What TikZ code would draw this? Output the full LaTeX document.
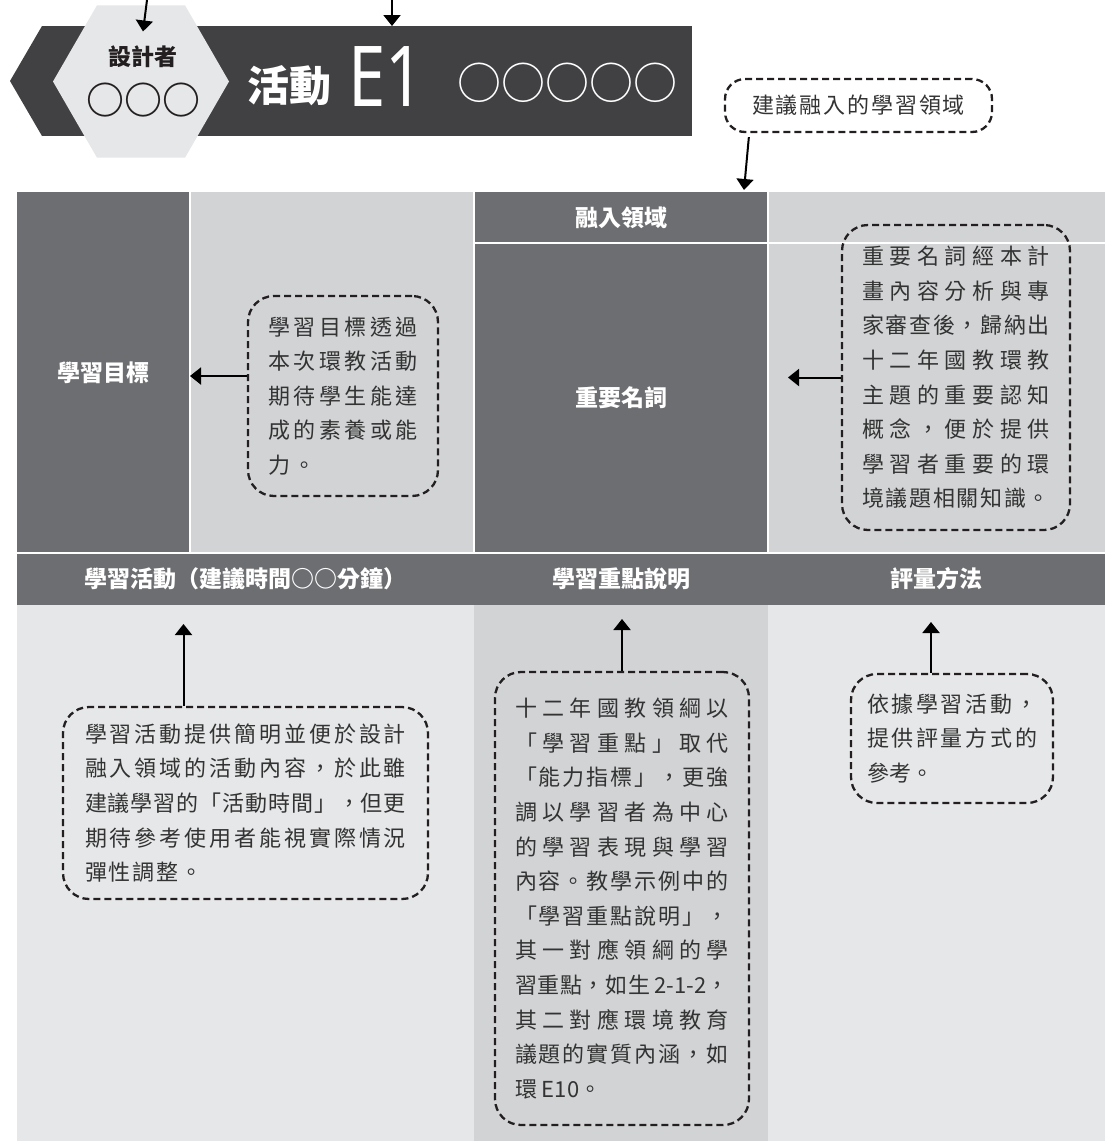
\documentclass[tikz,border=0pt]{standalone}
\usepackage{fontspec}
\usepackage{graphicx}
\usetikzlibrary{shapes.geometric,arrows.meta,calc}
\newfontfamily\cjk{Noto Sans CJK TC}
\newfontfamily\latsans{Noto Sans}
\definecolor{titlebar}{HTML}{414042}
\definecolor{hexgray}{HTML}{E6E7E8}
\definecolor{celldark}{HTML}{6D6E71}
\definecolor{celllight}{HTML}{D1D3D4}
\definecolor{cellvlight}{HTML}{E6E7E8}
\definecolor{callouttext}{HTML}{333333}
\definecolor{calloutline}{HTML}{231F20}
\definecolor{nameblack}{HTML}{231F20}
% spread the characters of one line over a given width
\def\spreadend{spreadend-marker}
\def\spreadgobble#1{}
\newcommand\spreadline[2]{\makebox[#1][s]{\spreadaux#2\spreadend}}
\def\spreadaux#1{#1\futurelet\spreadnext\spreadcheck}
\def\spreadcheck{\ifx\spreadnext\spreadend\expandafter\spreadgobble\else\hfil\expandafter\spreadaux\fi}
\begin{document}
\begin{tikzpicture}[x=1pt,y=-1pt,
  cell/.style={anchor=north west, inner sep=0pt, outer sep=0pt, text=white, font=\cjk\bfseries\fontsize{23}{28}\selectfont},
  callout/.style={draw=calloutline, line width=2.3pt, dash pattern=on 7pt off 4pt, rounded corners=26pt, inner sep=0pt, text=callouttext, align=left, font=\cjk\fontsize{22}{34.6}\selectfont},
  arr/.style={draw=black, line width=2pt, -{Triangle[length=11pt,width=17pt]}},
  sep/.style={draw=white, line width=1.2pt}]
\useasboundingbox (0,0) rectangle (1105,1141);

% ---------- title ----------
\fill[titlebar] (10,81) -- (42,26) -- (42,136) -- cycle;
\node[fill=titlebar, anchor=north west, minimum width=650pt, minimum height=110pt, inner sep=0pt, outer sep=0pt] (bar) at (42,26) {};
\node[regular polygon, regular polygon sides=6, minimum size=176pt, inner sep=0pt, fill=hexgray] (hex) at (141,81.5) {};
\node[font=\cjk\bfseries\fontsize{23}{28}\selectfont, text=nameblack] (designer) at (143,57) {設計者};
\node[font=\cjk\bfseries\fontsize{38}{40}\selectfont, text=nameblack] (dname) at (143,100) {○○○};
\node[font=\cjk\bfseries\fontsize{42}{46}\selectfont, text=white] (act) at (289,86) {活動};
\node[font=\latsans\fontsize{84}{86}\selectfont, text=white] (eone) at (386,76.5) {\scalebox{0.8}[1]{E1}};
\node[font=\cjk\fontsize{44}{46}\selectfont, text=white] (oname) at (567.5,83) {○○○○○};

\coordinate (t1) at (147,0);
\coordinate (t2) at (392,0);
\draw[arr] (t1) -- ([yshift=11pt]designer.north);
\draw[arr] (t2) -- (t2 |- bar.north);

\node[callout, rounded corners=20pt, minimum width=267pt, minimum height=53pt, font=\cjk\fontsize{22}{26}\selectfont] (cdom) at (858.5,105.5) {\spreadline{213pt}{建議融入的學習領域}};

% ---------- table ----------
\node[cell, fill=celldark, minimum width=173pt, minimum height=361pt] (goal) at (17,192) {學習目標};
\node[cell, fill=celllight, minimum width=284pt, minimum height=361pt] (goalv) at (190,192) {};
\node[cell, fill=celldark, minimum width=294pt, minimum height=51pt] (dom) at (474,192) {融入領域};
\node[cell, fill=celllight, minimum width=337pt, minimum height=51pt] (domv) at (768,192) {};
\node[cell, fill=celldark, minimum width=294pt, minimum height=310pt] (term) at (474,243) {重要名詞};
\node[cell, fill=celllight, minimum width=337pt, minimum height=310pt] (termv) at (768,243) {};
\node[cell, fill=celldark, minimum width=457pt, minimum height=52pt] (h1) at (17,553) {學習活動（建議時間○○分鐘）};
\node[cell, fill=celldark, minimum width=294pt, minimum height=52pt] (h2) at (474,553) {學習重點說明};
\node[cell, fill=celldark, minimum width=337pt, minimum height=52pt] (h3) at (768,553) {評量方法};
\node[cell, fill=cellvlight, minimum width=457pt, minimum height=536pt] (b1) at (17,605) {};
\node[cell, fill=celllight, minimum width=294pt, minimum height=536pt] (b2) at (474,605) {};
\node[cell, fill=cellvlight, minimum width=337pt, minimum height=536pt] (b3) at (768,605) {};

\draw[sep] (goal.north east) -- (goal.south east);
\draw[sep] (goalv.north east) -- (goalv.south east);
\draw[sep] (dom.north east) -- (term.south east);
\draw[sep] (dom.south west) -- (domv.south east);
\draw[sep] (goal.south west) -- (termv.south east);

% ---------- callouts ----------
\node[callout, minimum width=190pt, minimum height=200pt] (cgoal) at (343,396) {%
\spreadline{150pt}{學習目標透過}\\
\spreadline{150pt}{本次環教活動}\\
\spreadline{150pt}{期待學生能達}\\
\spreadline{150pt}{成的素養或能}\\
\makebox[150pt][l]{\spreadline{48pt}{力。}}};

\node[callout, minimum width=228pt, minimum height=305pt] (cterm) at (956,377.5) {%
\spreadline{188pt}{重要名詞經本計}\\
\spreadline{188pt}{畫內容分析與專}\\
\spreadline{188pt}{家審查後，歸納出}\\
\spreadline{188pt}{十二年國教環教}\\
\spreadline{188pt}{主題的重要認知}\\
\spreadline{188pt}{概念，便於提供}\\
\spreadline{188pt}{學習者重要的環}\\
\spreadline{188pt}{境議題相關知識。}};

\node[callout, minimum width=365pt, minimum height=192pt] (cact) at (245.5,803) {%
\spreadline{321pt}{學習活動提供簡明並便於設計}\\
\spreadline{321pt}{融入領域的活動內容，於此雖}\\
\spreadline{321pt}{建議學習的「活動時間」，但更}\\
\spreadline{321pt}{期待參考使用者能視實際情況}\\
\makebox[321pt][l]{\spreadline{118pt}{彈性調整。}}};

\node[callout, minimum width=254pt, minimum height=453pt] (ckey) at (622,898.5) {%
\spreadline{214pt}{十二年國教領綱以}\\
\spreadline{214pt}{「學習重點」取代}\\
\spreadline{214pt}{「能力指標」，更強}\\
\spreadline{214pt}{調以學習者為中心}\\
\spreadline{214pt}{的學習表現與學習}\\
\spreadline{214pt}{內容。教學示例中的}\\
\spreadline{214pt}{「學習重點說明」，}\\
\spreadline{214pt}{其一對應領綱的學}\\
\spreadline{214pt}{習重點，如生{\,2-1-2}，}\\
\spreadline{214pt}{其二對應環境教育}\\
\spreadline{214pt}{議題的實質內涵，如}\\
\makebox[214pt][l]{環 E10。}};

\node[callout, minimum width=202pt, minimum height=129pt] (ceval) at (952,738.5) {%
\spreadline{170pt}{依據學習活動，}\\
\spreadline{170pt}{提供評量方式的}\\
\makebox[170pt][l]{參考。}};

% ---------- connectors ----------
\draw[arr] ($(cdom.south west)+(25,4)$) -- ($(dom.north east)+(-24,-2)$);
\draw[arr] ($(cgoal.west)+(0,-20)$) coordinate (ag) -- (ag -| goal.east);
\draw[arr] (cterm.west) -- ($(termv.west |- cterm.west)+(20,0)$);
\draw[arr] ($(cact.north)+(-62,0)$) coordinate (aa) -- ($(aa |- h1.south)+(0,19)$);
\draw[arr] (ckey.north) -- ($(ckey.north |- h2.south)+(0,14)$);
\draw[arr] ($(ceval.north)+(-21,0)$) coordinate (ae) -- ($(ae |- h3.south)+(0,17)$);
\end{tikzpicture}
\end{document}
